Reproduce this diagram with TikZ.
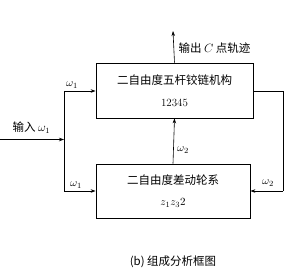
\documentclass[tikz,border=0pt]{standalone}
\usepackage{fontspec}
\newfontfamily\cjk{Noto Sans CJK SC}
\usetikzlibrary{arrows.meta}
\begin{document}
\begin{tikzpicture}[x=1pt,y=-1pt,
  blk/.style={draw,line width=0.8pt,inner sep=0pt},
  conn/.style={line width=0.6pt},
  arr/.style={conn,-{Stealth[length=5pt,width=3.5pt]}},
  lbl/.style={font=\fontsize{11}{13}\selectfont},
  cn/.style={font=\cjk\fontsize{11.5}{14}\selectfont}]
\useasboundingbox (0,0) rectangle (292,276);
\node[blk,minimum width=157pt,minimum height=55pt] (top) at (174.5,90.5) {};
\node[cn] (toptxt) at (174.5,80) {二自由度五杆铰链机构};
\node[lbl] (topnum) at (174.5,103) {12345};
\node[blk,minimum width=154pt,minimum height=54pt] (bot) at (173,191) {};
\node[cn] (bottxt) at (173,180) {二自由度差动轮系};
\node[lbl] (botnum) at (173,203) {$z_1z_3 2$};
\coordinate (in) at (0,139.5);
\coordinate (split) at (64,139.5);
\coordinate (ltop) at (64,91);
\coordinate (lbot) at (64,191);
\coordinate (out) at (173,31);
\coordinate (rtop) at (283,91);
\coordinate (rbot) at (283,191);
\draw[arr] (in) -- (split);
\draw[conn] (ltop) -- (lbot);
\draw[arr] (ltop) -- (top.west |- ltop);
\draw[arr] (lbot) -- (bot.west |- lbot);
\draw[arr] (top.north) -- (out);
\draw[arr] (bot.north) -- (top.south);
\draw[conn] (top.east |- rtop) -- (rtop) -- (rbot);
\draw[arr] (rbot) -- (bot.east |- rbot);
\node[cn,anchor=west] (outlbl) at (175,48) {输出 $C$ 点轨迹};
\node[lbl] (w1a) at (72,85) {$\omega_1$};
\node[lbl] (w1b) at (76,185) {$\omega_1$};
\node[cn,anchor=west] (inlbl) at (9,128) {输入 $\omega_1$};
\node[lbl] (w2a) at (183,150) {$\omega_2$};
\node[lbl] (w2b) at (268,183) {$\omega_2$};
\node[cn] (cap) at (173,262) {(b) 组成分析框图};
\end{tikzpicture}
\end{document}
